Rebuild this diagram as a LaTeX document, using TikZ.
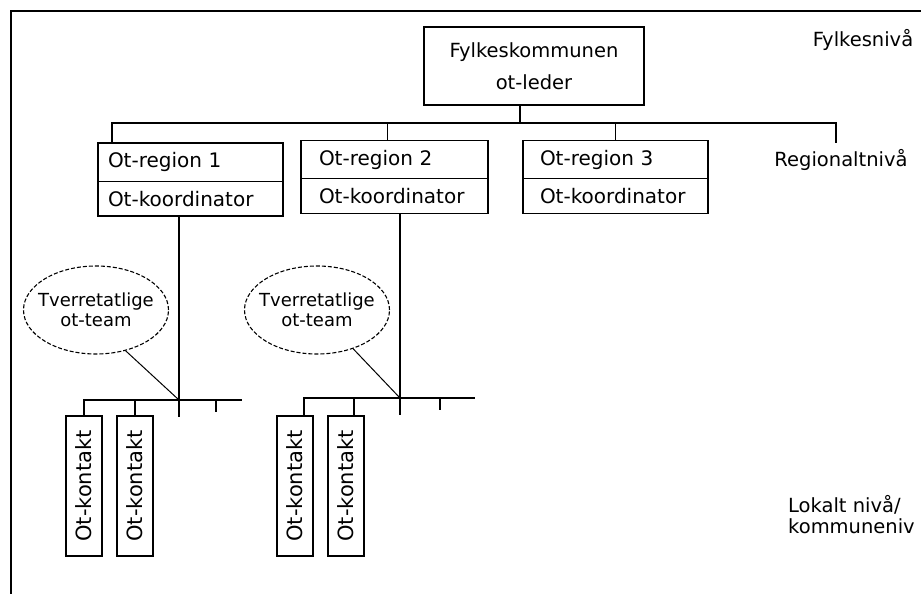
\documentclass[tikz,border=0pt]{standalone}
\usepackage{fontspec}
\setmainfont{DejaVu Sans}
\usetikzlibrary{positioning,shapes.geometric,shapes.multipart,calc}

\tikzset{
  unit/.style={draw, line width=1.3pt, font=\fontsize{20}{22}\selectfont},
  regionbox/.style={unit, rectangle split, rectangle split parts=2,
    align=left, text width=165pt, inner xsep=10pt, inner ysep=9pt,
    text height=15pt, text depth=4pt},
  teambubble/.style={draw, dash pattern=on 4pt off 2pt, line width=1.1pt, ellipse,
    minimum width=145pt, minimum height=88pt, inner xsep=-13pt, inner ysep=0pt,
    align=center, font=\fontsize{18}{20}\selectfont},
  contactbox/.style={unit, rotate=90, minimum width=140pt, minimum height=36pt,
    inner sep=0pt, font=\fontsize{21}{22}\selectfont},
  levellabel/.style={inner sep=0pt, font=\fontsize{19.5}{21}\selectfont},
  link/.style={line width=1.3pt},
}

\begin{document}
\begin{tikzpicture}[x=1pt,y=-1pt]
  \useasboundingbox (0,0) rectangle (921,594);

  % frame
  \draw[line width=1.7pt] (921,11) -- (11,11) -- (11,594);

  % county level
  \node[unit, minimum width=220pt, minimum height=78pt, align=center,
    font=\fontsize{19.5}{32}\selectfont] (fylke) at (534,66) {Fylkeskommunen\\ot-leder};
  \node[levellabel] (fylkeniva) at (863,40) {Fylkesnivå};

  % regional level
  \node[regionbox] (reg1) at (190.5,179.5) {Ot-region 1\nodepart{two}Ot-koordinator};
  \node[regionbox, inner xsep=18pt, text width=151pt] (reg2) at (394.5,177)
    {Ot-region 2\nodepart{two}Ot-koordinator};
  \node[regionbox, inner xsep=17pt, text width=151pt] (reg3) at (615.5,177)
    {Ot-region 3\nodepart{two}Ot-koordinator};
  \node[levellabel] (regniva) at (841,160) {Regionaltnivå};

  % bus to the regions
  \coordinate (busW) at (112,123);
  \coordinate (busE) at (836,123);
  \draw[link] ([xshift=-14pt]fylke.south) -- ([xshift=-14pt]fylke.south |- busW);
  \draw[link] (reg1.north -| busW) -- (busW) -- (busE) -- ++(0,20);
  \draw[link] ([xshift=-7pt]reg2.north) -- ([xshift=-7pt]reg2.north |- busW);
  \draw[link] (reg3.north) -- (reg3.north |- busW);

  % local level, region 1
  \node[teambubble] (team1) at (96,310) {Tverretatlige\\ot-team};
  \node[contactbox] (kont1) at (84,486) {Ot-kontakt};
  \node[contactbox] (kont2) at (135,486) {Ot-kontakt};
  \coordinate (hub1) at (179,400);
  \coordinate (bus1E) at (242,400);
  \draw[link] (reg1.south -| hub1) -- ($(hub1)+(0,17)$);
  \draw[link] (kont1.east) -- (kont1.east |- hub1) -- (bus1E);
  \draw[link] (kont2.east) -- (kont2.east |- hub1);
  \draw[link] ($(hub1)+(37,0)$) -- ++(0,12);
  \draw[line width=1pt] (team1.306) -- (hub1);

  % local level, region 2
  \node[teambubble] (team2) at (317,310) {Tverretatlige\\ot-team};
  \node[contactbox] (kont3) at (295,486) {Ot-kontakt};
  \node[contactbox] (kont4) at (346,486) {Ot-kontakt};
  \coordinate (hub2) at (400,398);
  \coordinate (bus2E) at (475,398);
  \draw[link] (reg2.south -| hub2) -- ($(hub2)+(0,17)$);
  \draw[link] ([xshift=9pt]kont3.east) -- ([xshift=9pt]kont3.east |- hub2) -- (bus2E);
  \draw[link] ([xshift=8pt]kont4.east) -- ([xshift=8pt]kont4.east |- hub2);
  \draw[link] ($(hub2)+(40,0)$) -- ++(0,12);
  \draw[line width=1pt] (team2.313) -- (hub2);

  \node[levellabel, anchor=north west, align=left] (lokalniva) at (788,495)
    {Lokalt nivå/\\kommuneniv};
\end{tikzpicture}
\end{document}
